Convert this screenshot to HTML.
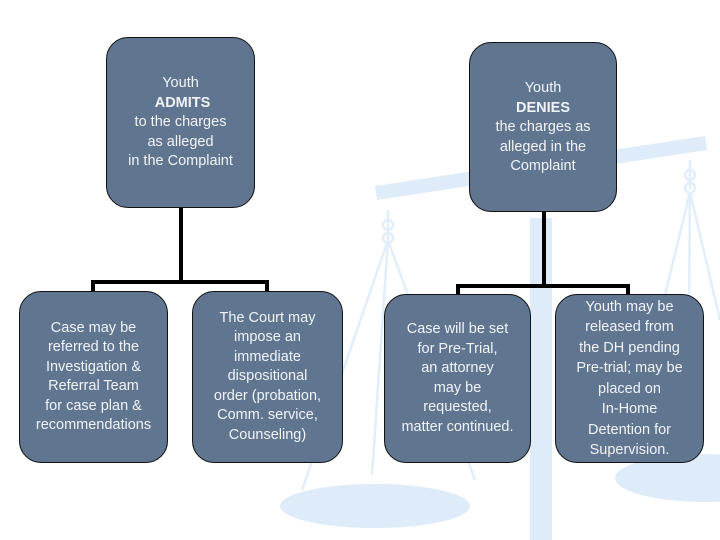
<!DOCTYPE html>
<html><head><style>
html,body{margin:0;padding:0;background:#fff;}
#c{position:relative;width:720px;height:540px;overflow:hidden;font-family:"Liberation Sans",sans-serif;}
.b{position:absolute;box-sizing:border-box;background:#5f7590;border:1.5px solid #111;border-radius:22px;color:#f2f4f7;font-size:14.5px;line-height:19.5px;text-align:center;display:flex;align-items:center;justify-content:center;}
.b > div{display:block;width:100%;}
.l{position:absolute;background:#000;}
</style></head><body><div id="c">
<svg width="720" height="540" style="position:absolute;left:0;top:0">
<g fill="#deecfa" stroke="none">
<rect x="530" y="218" width="22" height="330"/>
<polygon points="375,186 705,136 707,150 377,200"/>
<ellipse cx="375" cy="506" rx="95" ry="22"/>
<ellipse cx="705" cy="478" rx="90" ry="24"/>
</g>
<g stroke="#e2eefa" stroke-width="2.5" fill="none">
<line x1="388" y1="210" x2="388" y2="240"/>
<circle cx="388" cy="225" r="5"/><circle cx="388" cy="238" r="5"/>
<line x1="388" y1="240" x2="302" y2="490"/>
<line x1="388" y1="240" x2="475" y2="480"/>
<line x1="388" y1="240" x2="372" y2="475"/>
<line x1="690" y1="160" x2="690" y2="190"/>
<circle cx="690" cy="175" r="5"/><circle cx="690" cy="188" r="5"/>
<line x1="690" y1="192" x2="630" y2="440"/>
<line x1="690" y1="192" x2="720" y2="320"/>
<line x1="690" y1="192" x2="688" y2="440"/>
</g>
</svg>
<div class="l" style="left:179px;top:206px;width:4px;height:78px"></div>
<div class="l" style="left:91px;top:280px;width:178px;height:4px"></div>
<div class="l" style="left:91px;top:280px;width:4px;height:12px"></div>
<div class="l" style="left:265px;top:280px;width:4px;height:12px"></div>
<div class="l" style="left:542px;top:210px;width:4px;height:77px"></div>
<div class="l" style="left:456px;top:284px;width:174px;height:4px"></div>
<div class="l" style="left:456px;top:284px;width:4px;height:12px"></div>
<div class="l" style="left:626px;top:284px;width:4px;height:12px"></div>
<div class="b" style="left:106px;top:37px;width:149px;height:171px;align-items:flex-start;padding-top:36px"><div>Youth<br>&nbsp;<b>ADMITS</b><br>to the charges<br>as alleged<br>in the Complaint</div></div>
<div class="b" style="left:469px;top:42px;width:148px;height:170px;align-items:flex-start;padding-top:36px"><div>Youth<br><b>DENIES</b><br>the charges as<br>alleged in the<br>Complaint</div></div>
<div class="b" style="left:19px;top:291px;width:149px;height:172px"><div>Case may be<br>referred to the<br>Investigation &amp;<br>Referral Team<br>for case plan &amp;<br>recommendations</div></div>
<div class="b" style="left:192px;top:291px;width:151px;height:172px"><div>The Court may<br>impose an<br>immediate<br>dispositional<br>order (probation,<br>Comm. service,<br>Counseling)</div></div>
<div class="b" style="left:384px;top:294px;width:147px;height:169px"><div>Case will be set<br>for Pre-Trial,<br>an attorney<br>may be<br>requested,<br>matter continued.</div></div>
<div class="b" style="left:555px;top:294px;width:149px;height:169px;line-height:20.5px"><div>Youth may be<br>released from<br>the DH pending<br>Pre-trial; may be<br>placed on<br>In-Home<br>Detention for<br>Supervision.</div></div>
</div></body></html>
